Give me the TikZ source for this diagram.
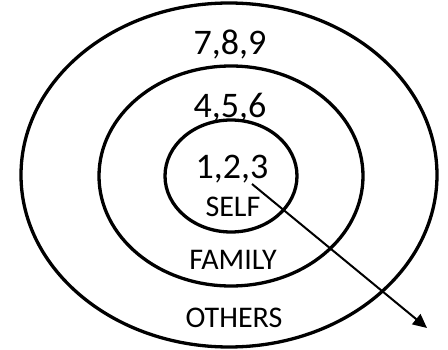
\documentclass[tikz,border=0pt]{standalone}
\usepackage{fontspec}
\setmainfont{Carlito}
\usetikzlibrary{arrows.meta}

\begin{document}
\begin{tikzpicture}[x=1pt,y=-1pt]
  \useasboundingbox (0,0) rectangle (448,350);

  % Três elipses concêntricas, da maior para a menor.
  \draw[line width=3.3pt] (229,175) ellipse [x radius=208, y radius=172];
  \draw[line width=3.3pt] (231,176) ellipse [x radius=132, y radius=110];
  \draw[line width=3.3pt] (231,176) ellipse [x radius=66, y radius=56];

  % Números de cada anel.
  \node[font=\fontsize{36}{38}\selectfont, inner sep=0pt] (n789) at (230,45) {7,8,9};
  \node[font=\fontsize{36}{38}\selectfont, inner sep=0pt] (n456) at (230,108) {4,5,6};
  \node[font=\fontsize{36}{38}\selectfont, inner sep=0pt] (n123) at (232,169) {1,2,3};

  % Nomes dos anéis.
  \node[font=\fontsize{30}{32}\selectfont, inner sep=0pt] (self) at (233,207) {SELF};
  \node[font=\fontsize{30}{32}\selectfont, inner sep=0pt] (family) at (233,260) {FAMILY};
  \node[font=\fontsize{30}{32}\selectfont, inner sep=0pt] (others) at (234,318) {OTHERS};

  % Seta que sai do centro para fora.
  \coordinate (inicio) at (252,184);
  \coordinate (fim) at (427,328);
  \draw[line width=2pt, -{Triangle[length=14pt,width=13pt]}] (inicio) -- (fim);
\end{tikzpicture}
\end{document}
